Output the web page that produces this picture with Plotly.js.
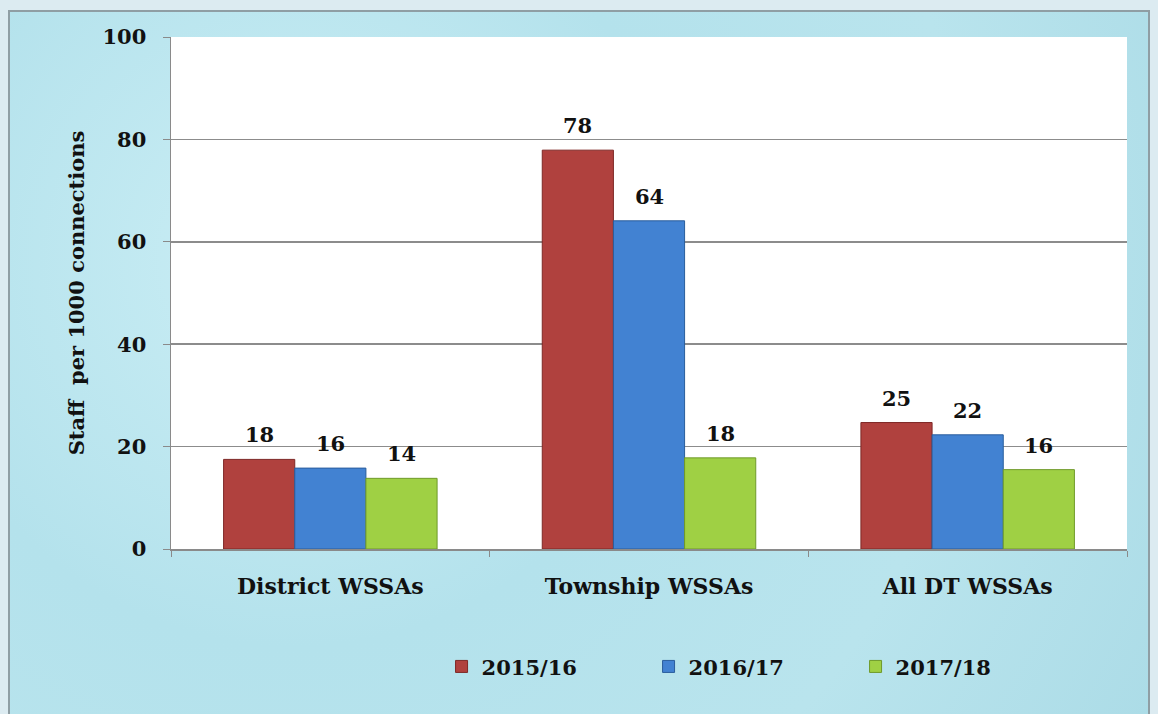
<!DOCTYPE html>
<html>
<head>
<meta charset="utf-8">
<script src="https://cdn.plot.ly/plotly-3.0.1.min.js"></script>
<style>
  html, body { margin: 0; padding: 0; width: 1158px; height: 714px; overflow: hidden; background: #dcebf1; }
  #frame { position: absolute; left: 8px; top: 10px; width: 1142px; height: 710px; border: 2px solid #8f9ea4; box-sizing: border-box;
           background: radial-gradient(circle at 25% 35%, #cbeef5 0%, #b4e2ec 40%, #b9e4ed 70%, #acdce7 100%); }
  #chart { position: absolute; left: 0; top: 0; width: 1138px; height: 706px; }
</style>
</head>
<body>
<div id="frame"><div id="chart"></div></div>
<script>
const categories = ['District WSSAs', 'Township WSSAs', 'All DT WSSAs'];
const seriesNames = ['2015/16', '2016/17', '2017/18'];
const values2015 = [17.5, 77.9, 24.7];
const values2016 = [15.8, 64.1, 22.3];
const values2017 = [13.8, 17.8, 15.5];
const labels2015 = ['18', '78', '25'];
const labels2016 = ['16', '64', '22'];
const labels2017 = ['14', '18', '16'];
const yTicks = [0, 20, 40, 60, 80, 100];

const seriesValues = [values2015, values2016, values2017];
const seriesLabels = [labels2015, labels2016, labels2017];
const colors = ['#b0413e', '#4282d2', '#9fd044'];
const lineColors = ['#7e2826', '#2a5d9c', '#6f9a2a'];

const FONT = 'DejaVu Serif, Liberation Serif, serif';
const bargap = 0.33;

const traces = seriesNames.map((name, j) => ({
  type: 'bar',
  name: name,
  x: categories,
  y: seriesValues[j],
  marker: { color: colors[j], line: { color: lineColors[j], width: 1 } },
  hoverinfo: 'x+y+name'
}));

const annotations = [];
const slot = (1 - bargap) / 3;
seriesValues.forEach((vals, j) => {
  vals.forEach((v, i) => {
    annotations.push({
      x: i + (j - 1) * slot,
      y: v,
      xref: 'x', yref: 'y',
      text: seriesLabels[j][i],
      showarrow: false,
      yanchor: 'bottom',
      yshift: 10,
      font: { family: FONT, size: 21, color: '#111', weight: 'bold' }
    });
  });
});

const layout = {
  width: 1138,
  height: 706,
  paper_bgcolor: 'rgba(0,0,0,0)',
  plot_bgcolor: '#ffffff',
  margin: { l: 161, r: 21, t: 25, b: 169 },
  barmode: 'group',
  bargap: bargap,
  bargroupgap: 0,
  font: { family: FONT, color: '#111' },
  xaxis: {
    type: 'category',
    showline: true, linecolor: '#8a8a8a', linewidth: 1.5,
    ticks: 'outside', ticklen: 6, tickcolor: '#8a8a8a',
    tickson: 'boundaries',
    ticklabelstandoff: 17,
    tickfont: { family: FONT, size: 22, color: '#111', weight: 'bold' },
    fixedrange: true
  },
  yaxis: {
    range: [0, 100],
    tickvals: yTicks,
    showline: true, linecolor: '#8a8a8a', linewidth: 1.5,
    ticks: 'outside', ticklen: 7, tickcolor: '#8a8a8a',
    ticklabelstandoff: 12,
    showgrid: true, gridcolor: '#8c8c8c', gridwidth: 1.5,
    zeroline: false,
    tickfont: { family: FONT, size: 21, color: '#111', weight: 'bold' },
    title: { text: 'Staff  per 1000 connections', font: { family: FONT, size: 21, color: '#111', weight: 'bold' }, standoff: 12 },
    fixedrange: true
  },
  legend: {
    orientation: 'h',
    x: 0.283, xanchor: 'left',
    y: -0.19, yanchor: 'top',
    entrywidth: 162,
    font: { family: FONT, size: 21, color: '#111', weight: 'bold' },
    bgcolor: 'rgba(0,0,0,0)'
  },
  annotations: annotations,
  showlegend: true
};

Plotly.newPlot('chart', traces, layout, { displayModeBar: false, staticPlot: true });
</script>
</body>
</html>
